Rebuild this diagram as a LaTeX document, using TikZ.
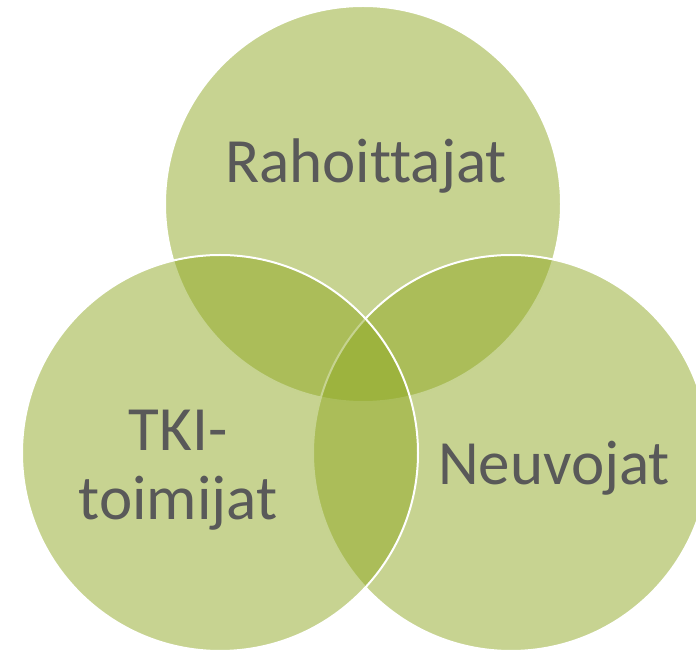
\documentclass[tikz,border=0pt]{standalone}
\usepackage{fontspec}
\setmainfont[Ligatures={NoCommon}]{Carlito}
\usepackage{xcolor}
\usepackage{tikz}
\usetikzlibrary{positioning}

\definecolor{vennfill}{RGB}{143,168,35}
\definecolor{venntext}{RGB}{89,89,89}

\tikzset{
  venn/.style={circle, minimum size=396pt, inner sep=0pt, draw=white, line width=2pt,
    fill=vennfill, fill opacity=0.5, draw opacity=1},
  vennlabel/.style={text=venntext, font=\fontsize{63}{69}\selectfont, inner sep=0pt, align=center}
}

\begin{document}
\begin{tikzpicture}[x=1pt, y=1pt]

\useasboundingbox (0,0) rectangle (696,653);

\node[venn] (C1) at (363,449) {};
\node[venn] (C3) at (511,200) {};
\node[venn] (C2) at (220,200) {};

\node[vennlabel, anchor=base] (L1) at (366,470) {Rahoittajat};
\node[vennlabel, anchor=base] (L2) at (178,133) {TKI-\\toimijat};
\node[vennlabel, anchor=base] (L3) at (554,168) {Neuvojat};
\end{tikzpicture}
\end{document}
